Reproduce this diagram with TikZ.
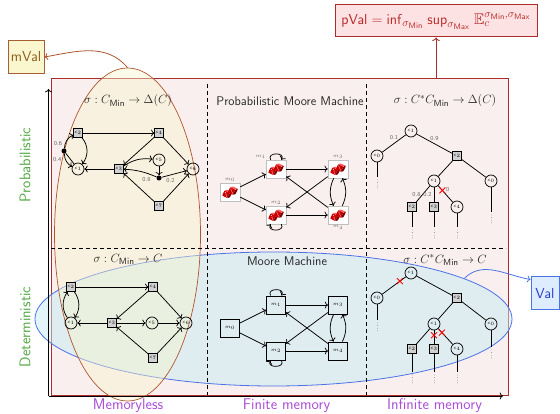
\documentclass[tikz,border=0pt]{standalone}
\usepackage{amssymb}
\usetikzlibrary{arrows.meta,shapes.geometric,shapes.misc,calc}

\definecolor{framered}{RGB}{170,45,45}
\definecolor{framefill}{RGB}{250,239,239}
\definecolor{pvalfill}{RGB}{252,226,226}
\definecolor{pvaltext}{RGB}{185,40,40}
\definecolor{mvalfill}{RGB}{250,246,205}
\definecolor{mvalbrown}{RGB}{165,95,55}
\definecolor{mvaltext}{RGB}{140,95,35}
\definecolor{memfill}{RGB}{248,244,205}
\definecolor{memline}{RGB}{175,85,45}
\definecolor{detfill}{RGB}{200,236,242}
\definecolor{detline}{RGB}{75,115,230}
\definecolor{valfill}{RGB}{222,236,255}
\definecolor{valtext}{RGB}{40,60,210}
\definecolor{axisgreen}{RGB}{85,170,70}
\definecolor{axispurple}{RGB}{170,80,215}

\tikzset{
  sq/.style={rectangle, draw, fill=black!18, minimum size=8.5pt, inner sep=0pt,
    line width=0.7pt, font=\fontsize{3.5}{4}\selectfont},
  cir/.style={circle, draw, minimum size=12pt, inner sep=0pt, line width=0.7pt,
    font=\fontsize{3.5}{4}\selectfont},
  rnd/.style={circle, fill=black, minimum size=5pt, inner sep=0pt},
  arr/.style={->, line width=0.75pt},
  link/.style={line width=0.75pt},
  prob/.style={font=\fontsize{6}{7}\selectfont, text=black!60, inner sep=1pt},
  title/.style={font=\fontsize{12.6}{14}\selectfont, text=black!85},
  axislabel/.style={font=\fontsize{15.5}{17}\selectfont},
  dicebox/.style={rectangle, draw=black!25, fill=white, minimum width=20pt,
    minimum height=18pt, inner sep=0pt},
  moorebox/.style={rectangle, draw, line width=0.9pt, minimum width=19pt,
    minimum height=18pt, inner sep=0pt, font=\fontsize{4}{5}\selectfont},
  mlabel/.style={font=\fontsize{5}{5}\selectfont, text=black!60, inner sep=1pt},
  redx/.style={cross out, draw=red, line width=0.9pt, minimum size=5pt, inner sep=0pt},
  cont/.style={line width=1pt},
  dotcol/.style={black!45, line width=0.8pt, dash pattern=on 0.01pt off 2.6pt, line cap=round},
  divider/.style={dash pattern=on 4pt off 3pt, line width=0.8pt},
  die/.pic={
    \fill[red!80!black, rounded corners=0.6pt] (-2.9,-2.9) rectangle (2.9,2.9);
    \fill[red!65, rounded corners=0.5pt] (-2.9,2.9) -- (-0.9,4.6) -- (4.9,4.6) -- (2.9,2.9) -- cycle;
    \fill[red!50!black, rounded corners=0.5pt] (2.9,-2.9) -- (4.9,-1.2) -- (4.9,4.6) -- (2.9,2.9) -- cycle;
    \fill[white] (-1.4,1.4) circle (0.55) (0,0) circle (0.55) (1.4,-1.4) circle (0.55);
  },
  dicepair/.pic={
    \pic[rotate=-25] at (-4,-2.2) {die};
    \pic[rotate=-25] at (1.6,1.0) {die};
  }
}

\begin{document}
\sffamily
\begin{tikzpicture}[x=1pt, y=1pt, >=To]
\useasboundingbox (0,0) rectangle (560,-414);

% value boxes
\node[draw=framered, fill=pvalfill, line width=1pt, text=pvaltext,
  minimum width=202pt, minimum height=32pt, inner sep=2pt,
  font=\fontsize{15.5}{17}\selectfont] (pval) at (436,-21)
  {$\mathsf{pVal}=\mathsf{inf}_{\sigma_{\mathsf{Min}}}\;\mathsf{sup}_{\sigma_{\mathsf{Max}}}\;\mathbb{E}_c^{\sigma_{\mathsf{Min}},\sigma_{\mathsf{Max}}}$};
\node[draw=mvalbrown, fill=mvalfill, line width=1pt, text=mvaltext,
  minimum width=36pt, minimum height=33pt, inner sep=1pt,
  font=\fontsize{14.5}{16}\selectfont] (mval) at (26,-57) {mVal};
\node[draw=detline, fill=valfill, line width=1pt, text=valtext,
  minimum width=28pt, minimum height=33pt, inner sep=1pt,
  font=\fontsize{14.5}{16}\selectfont] (val) at (545,-293.5) {Val};

% frame of the strategy classes
\node[draw=framered, fill=framefill, line width=1pt, minimum width=457pt,
  minimum height=316pt, inner sep=0pt] (frame) at (279.5,-237) {};

% deterministic and memoryless regions
\node[ellipse, draw=detline, line width=0.8pt, fill=detfill, fill opacity=0.5,
  minimum width=477pt, minimum height=134pt, inner sep=0pt] (determ) at (273.5,-319) {};
\node[ellipse, draw=memline, line width=0.7pt, fill=memfill, fill opacity=0.45,
  minimum width=146pt, minimum height=333pt, inner sep=0pt] (memless) at (127.5,-234.5) {};

% arrows to the values
\draw[->, framered, line width=0.9pt] (frame.north -| pval.south) -- (pval.south);
\draw[->, memline, line width=0.8pt] (memless.north) to[out=130, in=10] (mval.east);
\coordinate (valin) at ($(val.north west)+(0,-3)$);
\draw[->, detline, line width=0.8pt] (determ.12) to[out=45, in=170] (valin);

% grid
\draw[divider] (51,-248) -- (506,-248);
\draw[divider] (207,-84) -- (207,-395);
\draw[divider] (366,-84) -- (366,-395);

% titles
\node[title] at (128,-101) {$\sigma : C_{\mathsf{Min}} \to \Delta(C)$};
\node[title] at (290,-101) {Probabilistic Moore Machine};
\node[title] at (445,-101) {$\sigma : C^{*}C_{\mathsf{Min}} \to \Delta(C)$};
\node[title] at (128,-259) {$\sigma : C_{\mathsf{Min}} \to C$};
\node[title] at (287,-261) {Moore Machine};
\node[title] at (445,-260) {$\sigma : C^{*}C_{\mathsf{Min}} \to C$};

% ---- probabilistic memoryless strategy
\node[sq] (pa) at (78,-133) {$c_2$};
\node[sq] (pb) at (159,-133) {$c_4$};
\node[rnd] (pd) at (64,-151) {};
\node[cir] (pc1) at (78,-169) {$c_1$};
\node[sq] (pc) at (119,-169) {$c_3$};
\node[cir] (pc5) at (159,-160) {$c_5$};
\node[cir] (pr) at (193,-169) {$c_6$};
\node[rnd] (pd2) at (159,-178) {};
\node[sq] (pdd) at (159,-206) {$c_7$};
\draw[arr] (pa) -- (pb);
\draw[arr] (pa) to[bend left=40] (pc1);
\draw[link] (pc1) -- (pd);
\draw[arr] (pd) to[bend left=30] node[prob, left=2pt, pos=0.3] {0.6} (pa);
\draw[arr] (pd) to[bend right=30] node[prob, left=3pt, pos=0.4] {0.4} (pc1);
\draw[arr] (pc) -- (pc1);
\draw[arr] (pb) -- (pc);
\draw[arr] (pb) -- (pr);
\draw[arr] (pc) to[bend left=20] (pc5);
\draw[arr] (pc5) -- (pd2);
\draw[arr] (pd2) to[bend right=10] node[prob, below=3pt, pos=0.3] {0.8} (pc);
\draw[arr] (pd2) -- node[prob, below=2pt, pos=0.35] {0.2} (pr);
\draw[arr] (pdd) -- (pc);
\draw[arr] (pdd) -- (pr);

% ---- deterministic memoryless strategy
\node[sq] (da) at (71,-287) {$c_2$};
\node[sq] (db) at (153,-287) {$c_4$};
\node[cir] (dc1) at (71,-323) {$c_1$};
\node[sq] (dc) at (112,-323) {$c_3$};
\node[cir] (dc5) at (152,-323) {$c_5$};
\node[cir] (dr) at (186,-323) {$c_6$};
\node[sq] (ddd) at (153,-358) {$c_7$};
\draw[arr] (da) -- (db);
\draw[arr] (da) to[bend left=35] (dc1);
\draw[arr] (dc1) to[bend left=35] (da);
\draw[arr] (dc) -- (dc1);
\draw[arr] (db) -- (dc);
\draw[arr] (db) -- (dr);
\draw[arr] (dc) -- (dc5);
\draw[arr] (dc5) -- (dr);
\draw[arr] (ddd) -- (dc);
\draw[arr] (ddd) -- (dr);

% ---- probabilistic Moore machine
\node[dicebox, label={[mlabel]above:$m_0$}] (pm0) at (230,-192) {};
\node[dicebox, label={[mlabel]above left:$m_1$}] (pm1) at (276,-169) {};
\node[dicebox, label={[mlabel]above:$m_2$}] (pm2) at (276,-215) {};
\node[dicebox, label={[mlabel]above:$m_3$}] (pm3) at (338,-169) {};
\node[dicebox, label={[mlabel]below:$m_4$}] (pm4) at (338,-215) {};
\foreach \m in {pm0,pm1,pm2,pm3,pm4} { \pic at (\m) {dicepair}; }
\draw[arr] (pm0) -- (pm1);
\draw[arr] (pm0) -- (pm2);
\draw[arr] (pm1) -- (pm3);
\draw[arr] (pm2) -- (pm4);
\draw[arr] (pm3) -- (pm2);
\draw[arr] (pm4) -- (pm1);
\draw[arr] (pm3) to[bend right=25] (pm4);
\draw[arr] (pm4) to[bend right=25] (pm3);
\path[arr] (pm1) edge[out=120, in=60, loop, min distance=9pt] (pm1);
\path[arr] (pm2) edge[out=-60, in=-120, loop, min distance=9pt] (pm2);

% ---- Moore machine
\node[moorebox] (m0) at (230,-328) {$m_0$};
\node[moorebox] (m1) at (276,-305) {$m_1$};
\node[moorebox] (m2) at (276,-351) {$m_2$};
\node[moorebox] (m3) at (338,-305) {$m_3$};
\node[moorebox] (m4) at (338,-351) {$m_4$};
\draw[arr] (m0) -- (m1);
\draw[arr] (m0) -- (m2);
\draw[arr] (m1) -- (m3);
\draw[arr] (m2) -- (m4);
\draw[arr] (m3) -- (m2);
\draw[arr] (m4) -- (m1);
\draw[arr] (m3) to[bend right=25] (m4);
\draw[arr] (m4) to[bend right=25] (m3);
\path[arr] (m1) edge[out=120, in=60, loop, min distance=9pt] (m1);
\path[arr] (m2) edge[out=-60, in=-120, loop, min distance=9pt] (m2);

% ---- probabilistic strategy with memory
\node[cir] (tr) at (411,-131) {$c_1$};
\node[cir] (tl) at (377,-156) {$c_0$};
\node[sq] (ts) at (457,-156) {$c_2$};
\node[cir] (tk) at (434,-181) {$c_1$};
\node[cir] (tq) at (491,-181) {$c_0$};
\node[sq] (ta) at (412,-207) {$c_2$};
\node[sq] (tb) at (434,-207) {$c_3$};
\node[cir] (te) at (457,-207) {$c_4$};
\draw[link] (tr) -- node[prob, above=2pt] {0.1} (tl);
\draw[link] (tr) -- node[prob, above=2pt] {0.9} (ts);
\draw[link] (ts) -- (tk);
\draw[link] (ts) -- (tq);
\draw[link] (tk) -- node[prob, left=1pt] {0.8} (ta);
\draw[link] (tk) -- node[prob, left=1pt] {0.2} (tb);
\draw[link] (tk) -- node[redx, pos=0.28] {} node[prob, above right=0pt, pos=0.45] {0} (te);
\coordinate (tl-end) at (377,-177);
\coordinate (tq-end) at (491,-212);
\coordinate (ta-end) at (412,-227);
\coordinate (tb-end) at (434,-227);
\coordinate (te-end) at (457,-227);
\foreach \n in {tl,tq,ta,tb,te} {
  \draw[cont] (\n) -- (\n-end);
  \draw[dotcol] ($(\n-end)+(0,-3)$) -- ($(\n-end)+(0,-11)$);
}

% ---- deterministic strategy with memory
\node[cir] (ur) at (411,-273) {$c_1$};
\node[cir] (ul) at (377,-298) {$c_0$};
\node[sq] (us) at (457,-298) {$c_2$};
\node[cir] (uk) at (434,-324) {$c_1$};
\node[cir] (uq) at (491,-324) {$c_0$};
\node[sq] (ua) at (412,-349) {$c_2$};
\node[sq] (ub) at (434,-349) {$c_3$};
\node[cir] (ue) at (457,-349) {$c_4$};
\draw[link] (ur) -- node[redx, pos=0.25] {} (ul);
\draw[link] (ur) -- (us);
\draw[link] (us) -- (uk);
\draw[link] (us) -- (uq);
\draw[link] (uk) -- (ua);
\draw[link] (uk) -- node[redx, pos=0.35] {} (ub);
\draw[link] (uk) -- node[redx, pos=0.25] {} (ue);
\coordinate (ul-end) at (377,-320);
\coordinate (uq-end) at (491,-347);
\coordinate (ua-end) at (412,-372);
\coordinate (ub-end) at (434,-372);
\coordinate (ue-end) at (457,-372);
\foreach \n in {ul,uq,ua,ub,ue} {
  \draw[cont] (\n) -- (\n-end);
  \draw[dotcol] ($(\n-end)+(0,-3)$) -- ($(\n-end)+(0,-11)$);
}

% axes
\coordinate (origin) at (48.5,-396);
\coordinate (ytop) at (48.5,-89);
\coordinate (xend) at (503,-396);
\draw[->, line width=0.8pt] (origin) -- (ytop);
\draw[->, line width=0.8pt] (origin) -- (xend);

\node[axislabel, text=axisgreen, rotate=90] at (25,-165) {Probabilistic};
\node[axislabel, text=axisgreen, rotate=90] at (25,-327) {Deterministic};
\node[axislabel, text=axispurple] at (128,-406) {Memoryless};
\node[axislabel, text=axispurple] at (286.5,-406) {Finite memory};
\node[axislabel, text=axispurple] at (434.5,-406) {Infinite memory};
\end{tikzpicture}
\end{document}
